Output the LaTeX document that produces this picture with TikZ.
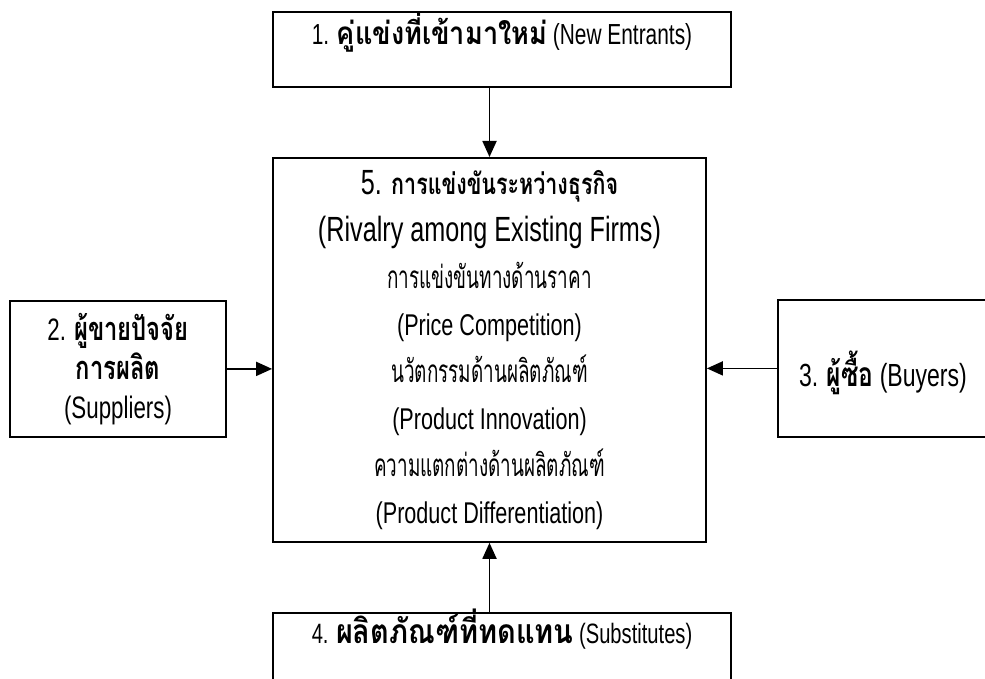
\documentclass[tikz,border=0pt]{standalone}
\usepackage{fontspec}
\setmainfont[FakeStretch=0.72]{Liberation Sans}
\newfontfamily\loma[Script=Thai,FakeStretch=0.60,Scale=1.05]{Loma}
\newfontfamily\lomab[Script=Thai,FakeStretch=0.73,Scale=1.05]{Loma}
\newfontfamily\lomaw[Script=Thai,FakeStretch=0.86,Scale=1.05]{Loma}
\usetikzlibrary{arrows.meta}
\newcommand{\thr}[1]{{\loma #1}}
\newcommand{\thb}[1]{{\lomab\bfseries #1}}
\newcommand{\thw}[1]{{\lomaw\bfseries #1}}
\newcommand{\setfs}[1]{\fontsize{#1}{#1}\selectfont}

\begin{document}
\begin{tikzpicture}[x=1pt,y=-1pt,
  every node/.style={draw, line width=1.8pt, inner sep=0pt},
  arr/.style={line width=1.8pt, -{Triangle[length=16pt,width=14pt]}}]
\useasboundingbox (0,0) rectangle (985,679);
\node[anchor=north, minimum width=458pt, text height=33pt, text depth=42pt, font=\setfs{29}] (n1) at (502,11) {1. {\setfs{30}\thw{คู่แข่งที่เข้ามาใหม่}} (New Entrants)};
\node[anchor=north, minimum width=433pt, minimum height=384pt, align=center, font=\fontsize{30}{47}\selectfont] (n5) at (489.5,157) {{\setfs{35}5. \setfs{28}\thb{การแข่งขันระหว่างธุรกิจ}}\\
  {\setfs{35}(Rivalry among Existing Firms)}\\
  \thr{การแข่งขันทางด้านราคา}\\
  (Price Competition)\\
  \thr{นวัตกรรมด้านผลิตภัณฑ์}\\
  (Product Innovation)\\
  \thr{ความแตกต่างด้านผลิตภัณฑ์}\\
  (Product Differentiation)};
\node[anchor=north, minimum width=216pt, minimum height=136pt, align=center, font=\fontsize{31}{39}\selectfont] (n2) at (118,300) {2. \thb{ผู้ขายปัจจัย}\\ \thb{การผลิต}\\ (Suppliers)};
\node[anchor=north, minimum width=210pt, text height=87pt, text depth=50pt, font=\setfs{32}] (n3) at (883,299) {3. \thb{ผู้ซื้อ} (Buyers)};
\node[anchor=north, minimum width=458pt, text height=31pt, text depth=44pt, font=\setfs{28}] (n4) at (502,612) {4. {\setfs{32}\thw{ผลิตภัณฑ์ที่ทดแทน}} (Substitutes)};
\draw[arr] (n5.north |- n1.south) -- (n5.north);
\draw[arr] (n2.east) -- (n2.east -| n5.west);
\draw[arr] (n3.west) -- (n3.west -| n5.east);
\draw[arr] (n5.south |- n4.north) -- (n5.south);
\end{tikzpicture}
\end{document}
